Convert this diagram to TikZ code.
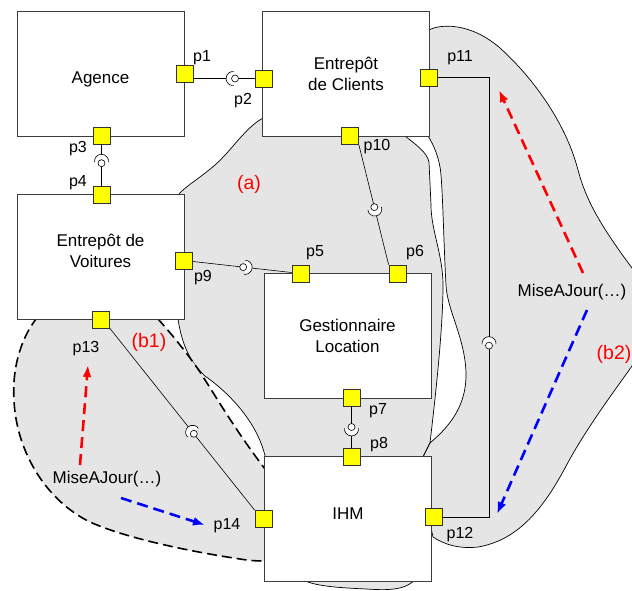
\documentclass[tikz,border=0pt]{standalone}
\usepackage{fontspec}
\setmainfont{Liberation Sans}
\usepackage{tikz}
\usetikzlibrary{arrows.meta, calc}

\definecolor{zonegray}{RGB}{229,229,229}
\definecolor{boxgray}{RGB}{60,60,60}
\definecolor{portyellow}{RGB}{255,255,0}
\definecolor{callred}{RGB}{255,0,0}
\definecolor{callblue}{RGB}{0,0,255}

% ball and socket: #1 point on the connector, #2 side of the socket
\newcommand{\sock}[2]{%
\fill[white] ($(#1)+(#2:2)$) ++(#2-90:6.8) arc[start angle=#2-90, delta angle=180, radius=6.8] -- cycle;
\draw[line width=0.6pt] ($(#1)+(#2:2)$) ++(#2-95:7) arc[start angle=#2-95, delta angle=190, radius=7];
\draw[line width=0.6pt, fill=white] (#1) circle[radius=3.5];
}

\begin{document}
\begin{tikzpicture}[x=1pt, y=-1pt]
\tikzstyle{comp}=[draw=boxgray, line width=0.9pt, fill=white, minimum width=167pt, minimum height=125pt, inner sep=0pt, align=center, font=\fontsize{17}{21}\selectfont]
\tikzstyle{port}=[draw=black!80, line width=0.8pt, fill=portyellow, minimum size=17pt, inner sep=0pt]
\tikzstyle{plab}=[inner sep=0pt, font=\fontsize{16}{19}\selectfont]
\tikzstyle{zlab}=[callred, inner sep=0pt, font=\fontsize{19.5}{23}\selectfont]
\tikzstyle{msg}=[inner sep=0pt, font=\fontsize{17}{20}\selectfont]
\tikzstyle{zone}=[fill=zonegray, draw=black, line width=0.7pt]
\tikzstyle{call}=[line width=2.6pt, dash pattern=on 11pt off 6pt, -{Latex[length=12pt,width=9pt]}]
\useasboundingbox (0,0) rectangle (632,590);

% zones
\begin{scope}
\clip (0,0) rectangle (632,590);
% (a)
\path[zone] (263,118) .. controls (245,128) and (232,150) .. (215,165)
  .. controls (200,178) and (186,186) .. (179,194)
  -- (160,256) -- (178,319)
  .. controls (182,345) and (190,362) .. (205,376)
  .. controls (225,390) and (258,420) .. (266,460)
  -- (290,560) -- (292,570)
  .. controls (300,584) and (320,587) .. (367,589)
  .. controls (395,591) and (412,589) .. (420,572)
  -- (423,457) -- (430,443)
  .. controls (435,400) and (443,330) .. (443,285)
  .. controls (443,255) and (431,230) .. (431,205)
  -- (429,162)
  .. controls (427,152) and (415,144) .. (405,136)
  -- (340,100) -- cycle;
% (b1)
\path[zone, line width=1.6pt, dash pattern=on 10pt off 5pt] (268,473)
  .. controls (235,430) and (215,395) .. (200,372)
  .. controls (185,350) and (168,330) .. (158,319)
  -- (100,300) -- (36,319)
  .. controls (20,340) and (12,370) .. (14,400)
  .. controls (16,450) and (45,500) .. (90,522)
  .. controls (130,540) and (200,553) .. (240,559)
  .. controls (252,561) and (260,561) .. (268,561)
  -- (280,520) -- cycle;
% (b2)
\path[zone] (429,30) .. controls (440,24) and (470,22) .. (500,48)
  .. controls (530,75) and (565,120) .. (578,170)
  .. controls (586,200) and (600,225) .. (632,268)
  -- (650,300) -- (632,366)
  .. controls (615,390) and (585,430) .. (565,468)
  .. controls (545,505) and (520,540) .. (478,547)
  .. controls (460,549) and (445,545) .. (433,537)
  -- (425,500) -- (423,457) -- (430,443)
  .. controls (445,430) and (466,410) .. (466,375)
  .. controls (466,340) and (447,310) .. (446,285)
  .. controls (444,250) and (443,200) .. (441,175)
  .. controls (440,160) and (434,145) .. (428,136)
  -- (420,80) -- cycle;
\end{scope}

% components
\node[comp, text height=23.2pt] (agence) at (100.5,73.5) {Agence};
\node[comp] (eclients) at (346,73.5) {Entrepôt\\de Clients};
\node[comp, text depth=12pt] (evoitures) at (100.5,256.5) {Entrepôt de\\Voitures};
\node[comp] (gestion) at (347.5,335.5) {Gestionnaire\\Location};
\node[comp, text depth=11pt] (ihm) at (348,519) {IHM};

% ports
\node[port] (p1) at (184.5,73.5) {};
\node[port] (p2) at (263.5,78.5) {};
\node[port] (p3) at (101.5,136) {};
\node[port] (p4) at (101.5,194.5) {};
\node[port] (p9) at (184,260.5) {};
\node[port] (p5) at (300.5,273.5) {};
\node[port] (p10) at (350,136) {};
\node[port] (p6) at (397.5,273.5) {};
\node[port] (p11) at (429,77.5) {};
\node[port] (p7) at (351.5,397.5) {};
\node[port] (p8) at (351.5,456.5) {};
\node[port] (p12) at (433.5,517) {};
\node[port] (p13) at (101,319.5) {};
\node[port] (p14) at (263.5,519) {};
\coordinate (turn) at (489,300);

% connectors
\draw[line width=0.6pt] (p1.east |- p2) -- coordinate[pos=.68] (s12) (p2);
\draw[line width=0.6pt] (p3) -- coordinate[pos=.45] (s34) (p4);
\draw[line width=0.6pt] (p9) -- coordinate[pos=.51] (s95) (p5);
\draw[line width=0.6pt] (p10.south east) -- coordinate[pos=.52] (s106) (p6.north west);
\draw[line width=0.6pt] (p7) -- coordinate[pos=.5] (s78) (p8);
\draw[line width=0.6pt] (p11) -- (p11 -| turn) -- coordinate[pos=.61] (s1112) (turn |- p12) -- (p12);
\draw[line width=0.6pt] (p13.south east) -- coordinate[pos=.58] (s1314) (p14.north west);
\sock{s12}{180}
\sock{s34}{270}
\sock{s95}{6}
\sock{s106}{76}
\sock{s78}{90}
\sock{s1112}{270}
\sock{s1314}{231}

% port labels
\node[plab] (lp1) at (202,58) {p1};
\node[plab] (lp2) at (243,101) {p2};
\node[plab] (lp3) at (78,149) {p3};
\node[plab] (lp4) at (78,183) {p4};
\node[plab] (lp5) at (315,253) {p5};
\node[plab] (lp6) at (415,253) {p6};
\node[plab] (lp7) at (378,411) {p7};
\node[plab] (lp8) at (379,445) {p8};
\node[plab] (lp9) at (203,278) {p9};
\node[plab] (lp10) at (377,147) {p10};
\node[plab] (lp11) at (460,58) {p11};
\node[plab] (lp12) at (460,535) {p12};
\node[plab] (lp13) at (86,349) {p13};
\node[plab] (lp14) at (227,526) {p14};

% zone labels
\node[zlab] (za) at (249,184) {(a)};
\node[zlab] (zb1) at (149,342) {(b1)};
\node[zlab] (zb2) at (614,354) {(b2)};

% update calls
\node[msg] (mleft) at (107,479) {MiseAJour(…)};
\node[msg] (mright) at (572,292) {MiseAJour(…)};
\coordinate (rl1) at (80,465);
\coordinate (rl2) at (88,365);
\coordinate (bl1) at (121,498);
\coordinate (bl2) at (205,525);
\coordinate (rr1) at (583,273);
\coordinate (rr2) at (499,90);
\coordinate (br1) at (587,310);
\coordinate (br2) at (497,514);
\draw[call, callred] (rl1) -- (rl2);
\draw[call, callblue] (bl1) -- (bl2);
\draw[call, callred] (rr1) -- (rr2);
\draw[call, callblue] (br1) -- (br2);
\end{tikzpicture}
\end{document}
